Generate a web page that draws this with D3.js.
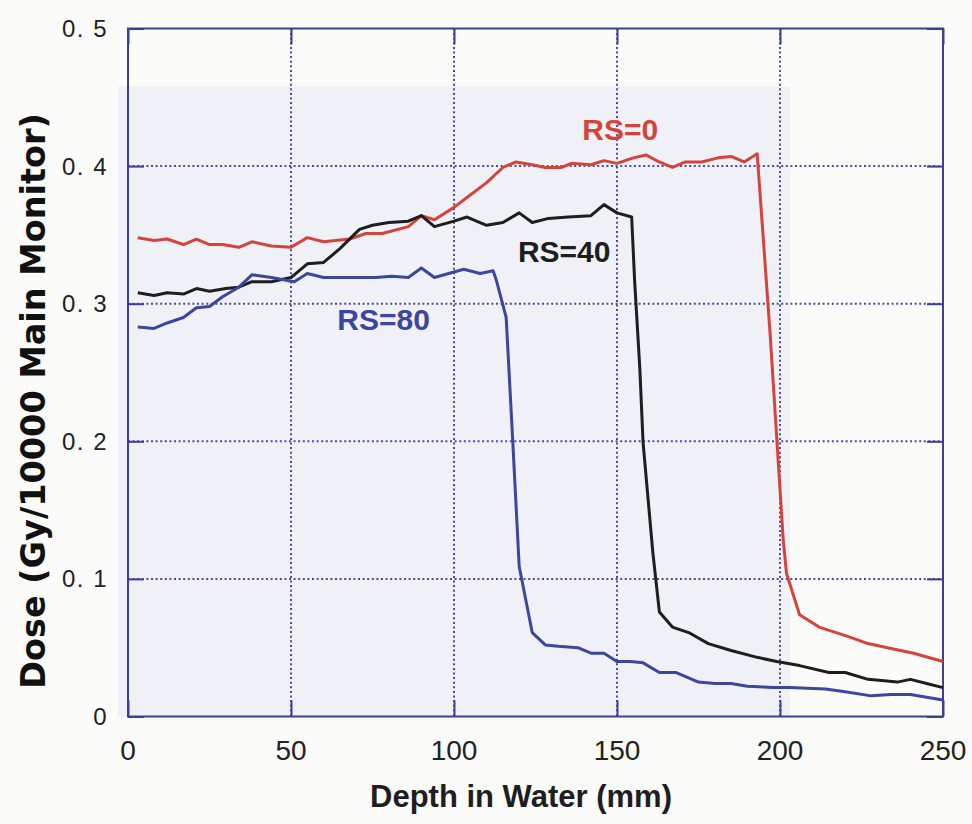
<!DOCTYPE html>
<html>
<head>
<meta charset="utf-8">
<script src="https://cdn.jsdelivr.net/npm/d3@7"></script>
<style>
  body { margin: 0; background: #fbfbfa; }
  #chart { width: 972px; height: 824px; }
</style>
</head>
<body>
<div id="chart"></div>
<script>
// Depth-dose curves
const rs0Depth = [3, 8, 12, 17, 21, 25, 29, 34, 38, 44, 50, 55, 60, 68, 73, 78, 86, 90, 94, 100, 105, 110, 115, 119, 124, 128, 133, 136, 142, 146, 150, 155, 159, 163, 167, 171, 176, 181, 185, 189, 193, 197, 201, 202, 206, 212, 221, 227, 233, 241, 250];
const rs0Dose = [0.348, 0.346, 0.347, 0.343, 0.347, 0.343, 0.343, 0.341, 0.345, 0.342, 0.341, 0.348, 0.345, 0.347, 0.351, 0.351, 0.356, 0.364, 0.361, 0.370, 0.379, 0.388, 0.399, 0.403, 0.401, 0.399, 0.399, 0.402, 0.401, 0.404, 0.402, 0.406, 0.408, 0.403, 0.399, 0.403, 0.403, 0.406, 0.407, 0.403, 0.409, 0.277, 0.128, 0.104, 0.074, 0.065, 0.058, 0.053, 0.050, 0.046, 0.040];

const rs40Depth = [3, 8, 12, 17, 21, 25, 30, 34, 38, 44, 50, 55, 60, 65, 71, 75, 80, 86, 90, 94, 100, 104, 110, 115, 120, 124, 129, 135, 142, 146, 150, 154.5, 155.4, 157, 158, 161, 163, 167, 172, 178, 185, 193, 199, 206, 215, 220, 227, 232, 236, 240, 245, 250];
const rs40Dose = [0.308, 0.306, 0.308, 0.307, 0.311, 0.309, 0.311, 0.312, 0.316, 0.316, 0.319, 0.329, 0.330, 0.340, 0.354, 0.357, 0.359, 0.360, 0.364, 0.356, 0.360, 0.363, 0.357, 0.359, 0.366, 0.359, 0.362, 0.363, 0.364, 0.372, 0.366, 0.363, 0.317, 0.253, 0.199, 0.119, 0.076, 0.065, 0.061, 0.053, 0.048, 0.043, 0.040, 0.037, 0.032, 0.032, 0.027, 0.026, 0.025, 0.027, 0.024, 0.021];

const rs80Depth = [3, 8, 12, 17, 21, 25, 29, 34, 38, 44, 51, 55, 60, 65, 71, 76, 81, 86, 90, 94, 100, 103, 108, 112, 113, 116, 118, 120, 124, 128, 132, 138, 142, 146, 150, 154, 158, 163, 168, 175, 180, 185, 190, 198, 203, 214, 220, 228, 234, 240, 250];
const rs80Dose = [0.283, 0.282, 0.286, 0.290, 0.297, 0.298, 0.305, 0.312, 0.321, 0.319, 0.316, 0.322, 0.319, 0.319, 0.319, 0.319, 0.320, 0.319, 0.326, 0.319, 0.323, 0.325, 0.322, 0.324, 0.317, 0.290, 0.201, 0.109, 0.061, 0.052, 0.051, 0.050, 0.046, 0.046, 0.040, 0.040, 0.039, 0.032, 0.032, 0.025, 0.024, 0.024, 0.022, 0.021, 0.021, 0.020, 0.018, 0.015, 0.016, 0.016, 0.012];

const seriesNames = ["RS=0", "RS=40", "RS=80"];
const xTicks = [0, 50, 100, 150, 200, 250];
const yTicks = [0, 0.1, 0.2, 0.3, 0.4, 0.5];
const yTickLabels = ["0", "0. 1", "0. 2", "0. 3", "0. 4", "0. 5"];

document.addEventListener('DOMContentLoaded', function() {
  const margin = {top: 28.5, right: 29, bottom: 107.5, left: 128};
  const width = 972 - margin.left - margin.right;
  const height = 824 - margin.top - margin.bottom;

  const frameColor = "#3b3f98";
  const gridColor = "#5247a6";
  const tickFont = "Liberation Sans Narrow, Arial Narrow, Liberation Sans, sans-serif";

  const svg = d3.select("#chart").append("svg")
      .attr("width", 972)
      .attr("height", 824);

  const g = svg.append("g")
      .attr("transform", "translate(" + margin.left + "," + margin.top + ")");

  const x = d3.scaleLinear().domain([0, 250]).range([0, width]);
  const y = d3.scaleLinear().domain([0, 0.5]).range([height, 0]);

  // faint bluish patch from the scan
  g.append("rect")
      .attr("x", -10).attr("y", 58)
      .attr("width", 672).attr("height", height - 58)
      .attr("fill", "#eff1f7");

  // dotted grid
  g.selectAll(".vgrid")
      .data(xTicks.slice(1, -1))
      .enter().append("line")
      .attr("x1", function(d) { return x(d); })
      .attr("x2", function(d) { return x(d); })
      .attr("y1", 0).attr("y2", height)
      .attr("stroke", gridColor)
      .attr("stroke-width", 2)
      .attr("stroke-dasharray", "2,2.6");

  g.selectAll(".hgrid")
      .data(yTicks.slice(1, -1))
      .enter().append("line")
      .attr("y1", function(d) { return y(d); })
      .attr("y2", function(d) { return y(d); })
      .attr("x1", 0).attr("x2", width)
      .attr("stroke", gridColor)
      .attr("stroke-width", 2)
      .attr("stroke-dasharray", "2,2.6");

  // inward ticks on all four sides
  const tickLen = 16;
  const xAxisB = d3.axisBottom(x).tickValues(xTicks).tickSize(-tickLen).tickFormat("");
  const xAxisT = d3.axisTop(x).tickValues(xTicks).tickSize(-tickLen).tickFormat("");
  const yAxisL = d3.axisLeft(y).tickValues(yTicks).tickSize(-tickLen).tickFormat("");
  const yAxisR = d3.axisRight(y).tickValues(yTicks).tickSize(-tickLen).tickFormat("");

  [
    g.append("g").attr("transform", "translate(0," + height + ")").call(xAxisB),
    g.append("g").call(xAxisT),
    g.append("g").call(yAxisL),
    g.append("g").attr("transform", "translate(" + width + ",0)").call(yAxisR)
  ].forEach(function(ax) {
    ax.select(".domain").remove();
    ax.selectAll("line").attr("stroke", frameColor).attr("stroke-width", 2);
  });

  g.append("rect")
      .attr("width", width).attr("height", height)
      .attr("fill", "none")
      .attr("stroke", frameColor)
      .attr("stroke-width", 2);

  // tick labels
  g.selectAll(".xlab")
      .data(xTicks)
      .enter().append("text")
      .attr("x", function(d) { return x(d); })
      .attr("y", height + 43)
      .attr("text-anchor", "middle")
      .attr("font-family", tickFont)
      .attr("font-size", 28)
      .attr("fill", "#222")
      .text(function(d) { return d; });

  g.selectAll(".ylab")
      .data(yTicks)
      .enter().append("text")
      .attr("x", -20)
      .attr("y", function(d) { return y(d) + 8.5; })
      .attr("text-anchor", "end")
      .attr("font-family", tickFont)
      .attr("font-size", 24)
      .attr("letter-spacing", 1.5)
      .attr("fill", "#222")
      .text(function(d, i) { return yTickLabels[i]; });

  // axis titles
  svg.append("text")
      .attr("x", 521).attr("y", 807)
      .attr("text-anchor", "middle")
      .attr("font-family", "Liberation Sans, Arial, sans-serif")
      .attr("font-weight", "bold")
      .attr("font-size", 31)
      .attr("fill", "#1e1e1e")
      .text("Depth in Water (mm)");

  svg.append("text")
      .attr("transform", "translate(45,401) rotate(-90)")
      .attr("text-anchor", "middle")
      .attr("font-family", "DejaVu Sans, sans-serif")
      .attr("font-weight", "bold")
      .attr("font-size", 33.5)
      .attr("fill", "#111")
      .text("Dose (Gy/10000 Main Monitor)");

  // curves
  const series = [
    {name: seriesNames[0], depth: rs0Depth, dose: rs0Dose, color: "#d4443a", lx: 151, ly: 0.419},
    {name: seriesNames[1], depth: rs40Depth, dose: rs40Dose, color: "#1e1e1e", lx: 133.8, ly: 0.330},
    {name: seriesNames[2], depth: rs80Depth, dose: rs80Dose, color: "#3b479e", lx: 78.4, ly: 0.281}
  ];

  const line = d3.line()
      .x(function(d) { return x(d[0]); })
      .y(function(d) { return y(d[1]); });

  series.forEach(function(s) {
    g.append("path")
        .datum(d3.zip(s.depth, s.dose))
        .attr("fill", "none")
        .attr("stroke", s.color)
        .attr("stroke-width", 3)
        .attr("stroke-linejoin", "round")
        .attr("d", line);

    g.append("text")
        .attr("x", x(s.lx))
        .attr("y", y(s.ly))
        .attr("text-anchor", "middle")
        .attr("font-family", "Liberation Sans, Arial, sans-serif")
        .attr("font-weight", "bold")
        .attr("font-size", 30)
        .attr("fill", s.color)
        .text(s.name);
  });
});
</script>
</body>
</html>
